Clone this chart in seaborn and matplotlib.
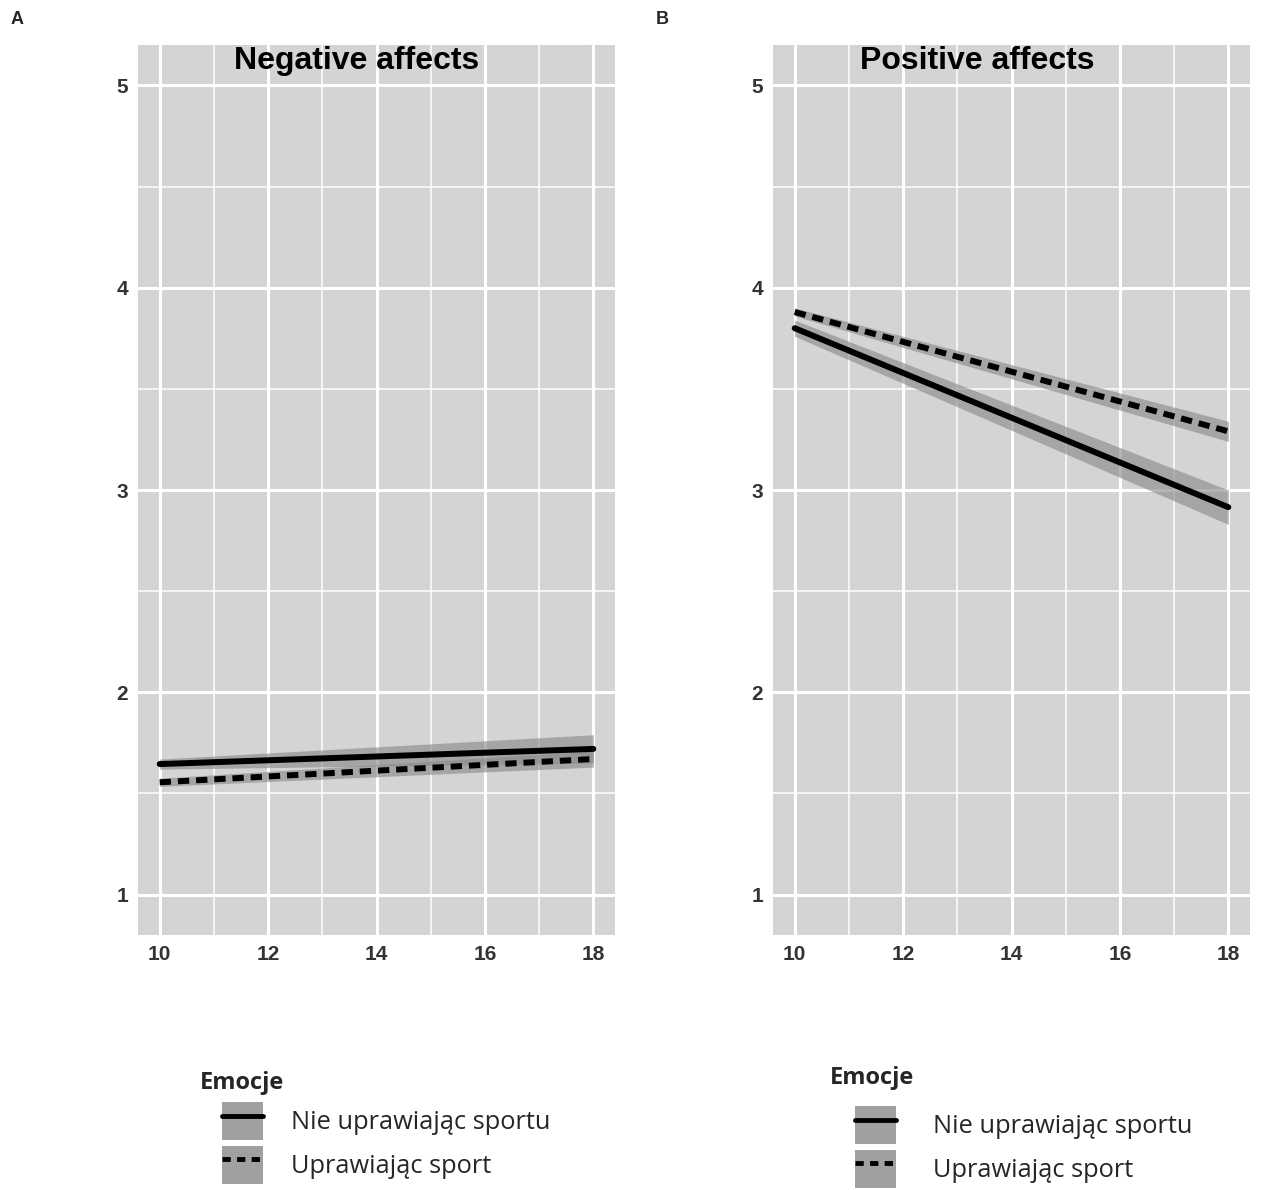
import numpy as np
import pandas as pd
import matplotlib.pyplot as plt
import seaborn as sns
from matplotlib.patches import Patch
from matplotlib.lines import Line2D
from matplotlib.legend_handler import HandlerTuple

# data (model lines at age 10 and 18, with CI band)
age = [10, 18]
groups = ['Nie uprawiając sportu', 'Uprawiając sport']

neg_none = [1.645, 1.72]
neg_none_lo = [1.62, 1.65]
neg_none_hi = [1.67, 1.79]
neg_sport = [1.555, 1.67]
neg_sport_lo = [1.535, 1.63]
neg_sport_hi = [1.575, 1.71]

pos_none = [3.80, 2.915]
pos_none_lo = [3.76, 2.83]
pos_none_hi = [3.84, 3.00]
pos_sport = [3.88, 3.29]
pos_sport_lo = [3.86, 3.24]
pos_sport_hi = [3.90, 3.34]

titles = ['Negative affects', 'Positive affects']
panel_tags = ['A', 'B']

sns.set_theme(style='darkgrid')
plt.rcParams['font.family'] = ['Liberation Sans', 'DejaVu Sans']

W, H = 1261, 1190
fig = plt.figure(figsize=(W / 100, H / 100), dpi=100)
ax1 = fig.add_axes([138 / W, 1 - 935 / H, 477 / W, 890 / H])
ax2 = fig.add_axes([773 / W, 1 - 935 / H, 477 / W, 890 / H])

panels = [
    (ax1, [(neg_none, neg_none_lo, neg_none_hi), (neg_sport, neg_sport_lo, neg_sport_hi)]),
    (ax2, [(pos_none, pos_none_lo, pos_none_hi), (pos_sport, pos_sport_lo, pos_sport_hi)]),
]

title_x = [0.459, 0.428]
tag_x = [17, 662]
leg_title_x = [200, 830]
leg_title_y = [1083, 1078]
leg_key_x = [222, 855]
leg_key_y = [1102, 1106]
leg_pad = [1.1, 1.45]
dash = (1.9, 1.15)

for i, (ax, series) in enumerate(panels):
    ax.set_facecolor('#d4d4d4')
    rows = []
    for g, (mid, lo, hi) in zip(groups, series):
        ax.fill_between(age, lo, hi, color='#8c8c8c', alpha=0.65, lw=0, zorder=2)
        for a, v in zip(age, mid):
            rows.append({'age': a, 'value': v, 'group': g})
    df = pd.DataFrame(rows)
    sns.lineplot(data=df, x='age', y='value', style='group', style_order=groups,
                 dashes={groups[0]: '', groups[1]: dash},
                 color='black', lw=4.3, ax=ax, legend=False, zorder=3)

    ax.set_xlim(9.6, 18.4)
    ax.set_ylim(0.8, 5.2)
    ax.set_xticks([10, 12, 14, 16, 18])
    ax.set_xticks([11, 13, 15, 17], minor=True)
    ax.set_yticks([1, 2, 3, 4, 5])
    ax.set_yticks([1.5, 2.5, 3.5, 4.5], minor=True)
    ax.grid(which='major', color='white', lw=2.2)
    ax.grid(which='minor', color='white', lw=1.1)
    ax.set_axisbelow(True)
    for s in ax.spines.values():
        s.set_visible(False)
    ax.tick_params(which='major', length=4, width=1.6, color='#333333',
                   labelsize=15, labelcolor='#333333', pad=3)
    ax.tick_params(which='minor', length=0)
    for lab in ax.get_xticklabels() + ax.get_yticklabels():
        lab.set_fontweight('bold')
    ax.set_xlabel('')
    ax.set_ylabel('')
    ax.text(title_x[i], 0.999, titles[i], transform=ax.transAxes, ha='center', va='top',
            fontsize=23, fontweight='bold', color='black')
    fig.text(tag_x[i] / W, 1 - 19 / H, panel_tags[i],
             fontsize=13, fontweight='bold', ha='center', va='center')

    # legend (ggplot style key: grey band with line)
    fig.text(leg_title_x[i] / W, 1 - leg_title_y[i] / H, 'Emocje', family='Open Sans',
             fontsize=17, fontweight='bold', ha='left', va='center')
    handles = [
        (Patch(facecolor='#a0a0a0', edgecolor='none'),
         Line2D([], [], color='black', lw=3.5)),
        (Patch(facecolor='#a0a0a0', edgecolor='none'),
         Line2D([], [], color='black', lw=3.5, dashes=(1.7, 1.3))),
    ]
    fig.legend(handles, groups, loc='upper left',
               bbox_to_anchor=(leg_key_x[i] / W, 1 - leg_key_y[i] / H),
               handler_map={tuple: HandlerTuple(ndivide=1, pad=0)},
               frameon=False, prop={'family': 'Open Sans', 'size': 18.3},
               handlelength=1.6, handleheight=1.95, handletextpad=leg_pad[i],
               labelspacing=0.2, borderpad=0, borderaxespad=0)

fig.savefig('out.png', dpi=100, facecolor='white')
